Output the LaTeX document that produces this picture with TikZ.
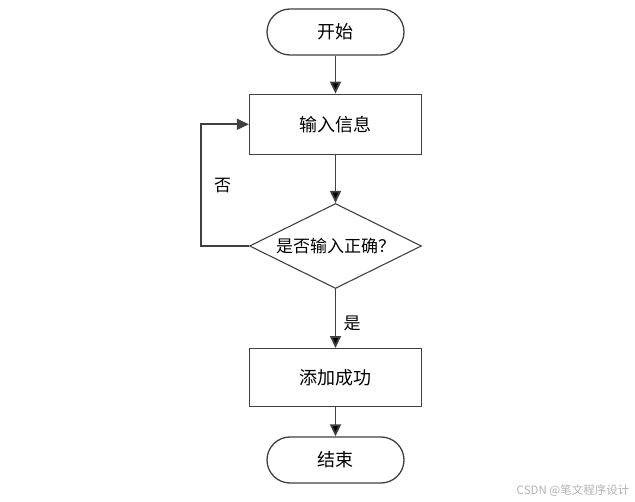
\documentclass[tikz,border=0pt]{standalone}
\usepackage{fontspec}
\newfontfamily\cjk{Noto Sans CJK SC}
\usetikzlibrary{shapes.geometric,positioning,arrows.meta}
\definecolor{linegray}{HTML}{404040}
\tikzset{
  terminal/.style={draw=linegray,line width=1.3pt,rectangle,rounded corners=23pt,minimum width=137pt,minimum height=46pt,font=\cjk\fontsize{18}{20}\selectfont},
  process/.style={draw=linegray,line width=1.3pt,rectangle,minimum width=172pt,minimum height=60pt,font=\cjk\fontsize{18}{20}\selectfont},
  decision/.style={draw=linegray,line width=1.1pt,diamond,aspect=2,inner sep=0pt,minimum width=172pt,minimum height=85pt,font=\cjk\fontsize{17}{19}\selectfont},
  flow/.style={draw=linegray,line width=1.8pt,-{Triangle[length=12pt,width=11pt]}},
  answer/.style={font=\cjk\fontsize{17}{19}\selectfont}
}
\begin{document}
\begin{tikzpicture}[x=1pt,y=-1pt]
      \useasboundingbox (0,0) rectangle (635,502);
      \node [terminal] (start) at (335.5,32) {开始};
      \node [process,below=38pt of start] (input) {输入信息};
      \node [decision,below=48pt of input] (check) {是否输入正确？};
      \node [process,below=59pt of check,minimum height=58pt] (done) {添加成功};
      \node [terminal,below=29pt of done] (stop) {结束};
      \path [flow]
      (start) edge (input)
      (input) edge (check)
      (check) edge node [answer,right,xshift=4pt,yshift=-5pt] {是} (done)
      (done) edge (stop);
      \draw [flow] (check.west) -- ++(-48,0) |- node [answer,pos=0.25,right,xshift=9pt] {否} (input.west);
      \node [text=gray!60,font=\cjk\fontsize{11.5}{13}\selectfont] (mark) at (573,491) {CSDN @笔文程序设计};
    \end{tikzpicture}
\end{document}
